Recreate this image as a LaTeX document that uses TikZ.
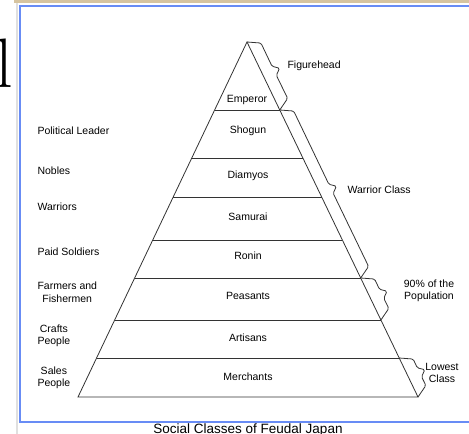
\documentclass[tikz,border=0pt]{standalone}
\usepackage{fontspec}
\newfontfamily\classfont{Liberation Sans}
\usetikzlibrary{calc}
\definecolor{frameblue}{RGB}{104,140,245}
\definecolor{shelftan}{RGB}{214,196,160}
\begin{document}
\begin{tikzpicture}[x=1pt,y=-1pt,
			tier line/.style={draw=black!80,line width=0.8pt},
			tier label/.style={font=\classfont\fontsize{10.5}{12.5}\selectfont},
			role label/.style={anchor=west,align=center,font=\classfont\fontsize{10.5}{12.5}\selectfont},
			brace edge/.style={draw=black!80,line width=0.8pt,rounded corners=1.5pt,
				to path={-- ($(\tikztostart)!14pt!60:(\tikztotarget)$)
					-- ($(\tikztostart)!0.5!(\tikztotarget)!5pt!(\tikztostart)!12pt!-90:(\tikztostart)$)
					-- ($(\tikztostart)!0.5!(\tikztotarget)!18pt!90:(\tikztotarget)$)
					-- ($(\tikztostart)!0.5!(\tikztotarget)!5pt!(\tikztotarget)!12pt!90:(\tikztotarget)$)
					-- ($(\tikztotarget)!14pt!-60:(\tikztostart)$) -- (\tikztotarget)}}]
			
			\useasboundingbox (0,0) rectangle (469,434);
			
			% screenshot surroundings
			\fill[shelftan] (14,0) rectangle (469,3);
			\draw[black!12,line width=2pt] (16.5,3) -- (16.5,434);
			\draw[frameblue,line width=2pt] (20,5.5) rectangle (480,422);
			\node[anchor=base west,inner sep=0pt,font=\fontsize{70}{70}\selectfont] (cut) at (-4.5,87) {l};
			
			% pyramid
			\coordinate (apex) at (247,42);
			\coordinate (lbase) at (78,397);
			\coordinate (rbase) at (418,397);
			\draw[tier line] (lbase) -- (apex) -- (rbase) -- cycle;
			\foreach \y/\name in {110/emperor,158/shogun,197/diamyos,240/samurai,278/ronin,320/peasants,358/artisans}
				\draw[tier line] ($(apex)!{(\y-42)/355}!(lbase)$) coordinate (l\name)
					-- ($(apex)!{(\y-42)/355}!(rbase)$) coordinate (r\name);
			
			% tiers
			\node[tier label] (Emperor) at (247,100) {Emperor};
			\node[tier label] (Shogun) at (248,131) {Shogun};
			\node[tier label] (Diamyos) at (248,176) {Diamyos};
			\node[tier label] (Samurai) at (248,217) {Samurai};
			\node[tier label] (Ronin) at (248,256) {Ronin};
			\node[tier label] (Peasants) at (248,296) {Peasants};
			\node[tier label] (Artisans) at (248,338) {Artisans};
			\node[tier label] (Merchants) at (248,377) {Merchants};
			
			% roles
			\node[role label] (Leader) at (34,131) {Political Leader};
			\node[role label] (Nobles) at (34,171) {Nobles};
			\node[role label] (Warriors) at (34,207) {Warriors};
			\node[role label] (Soldiers) at (34,252) {Paid Soldiers};
			\node[role label] (Farmers) at (34,292) {Farmers and\\Fishermen};
			\node[role label] (Crafts) at (34,336) {Crafts\\People};
			\node[role label] (Sales) at (34,378) {Sales\\People};
			
			% groups
			\draw[brace edge] (apex) to (remperor);
			\draw[brace edge] (remperor) to (rronin);
			\draw[brace edge] (rronin) to (rpeasants);
			\draw[brace edge] (rartisans) to (rbase);
			\node[role label] (Figurehead) at (284,66) {Figurehead};
			\node[role label] (Warrior) at (344,190) {Warrior Class};
			\node[tier label,align=center] (Majority) at (429,291) {90\% of the\\Population};
			\node[tier label,align=center] (Lowest) at (442,373) {Lowest\\Class};
			
			\node[anchor=base,font=\classfont\fontsize{13.5}{15}\selectfont] (Caption) at (248,433.5) {Social Classes of Feudal Japan};
			\end{tikzpicture}
\end{document}
